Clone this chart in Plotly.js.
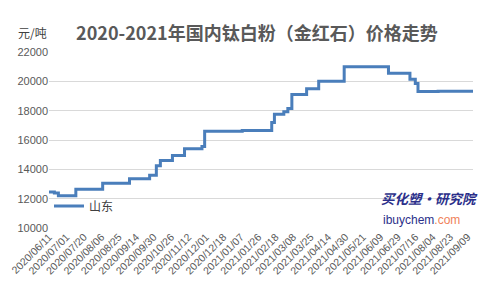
<!DOCTYPE html>
<html>
<head>
<meta charset="utf-8">
<script src="https://cdn.plot.ly/plotly-3.0.1.min.js"></script>
<style>html,body{margin:0;padding:0;background:#fff;}#chart{width:494px;height:296px;}</style>
</head>
<body>
<div id="chart"></div>
<script>
// Tick labels (every 13th trading day)
const tickLabels = ["2020/06/11","2020/07/01","2020/07/20","2020/08/06","2020/08/25","2020/09/14","2020/09/30","2020/10/26","2020/11/12","2020/12/01","2020/12/18","2021/01/07","2021/01/26","2021/02/18","2021/03/08","2021/03/25","2021/04/14","2021/04/30","2021/05/21","2021/06/09","2021/06/29","2021/07/16","2021/08/04","2021/08/23","2021/09/09"];
const tickStep = 13;
// Price change points: trading-day index and price (元/吨)
const dayIndex = [0, 4, 7, 20, 40, 60, 75, 80, 83, 92, 101, 114, 116, 144, 166, 168, 175, 178, 181, 192, 201, 220, 253, 269, 273, 275, 290, 316];
const shandong = [12450, 12380, 12200, 12650, 13050, 13350, 13600, 14250, 14600, 14950, 15400, 15550, 16600, 16650, 17200, 17750, 17930, 18150, 19100, 19500, 20000, 21000, 20550, 20150, 19850, 19300, 19330, 19330];
const seriesName = "山东";

const tickVals = tickLabels.map((_, i) => i * tickStep);

const trace = {
  x: dayIndex, y: shandong, type: 'scatter', mode: 'lines', name: seriesName,
  line: {color: '#4a7ebb', width: 3, shape: 'hv'}
};

const layout = {
  width: 494, height: 296,
  margin: {l: 49, r: 21, t: 52, b: 68},
  paper_bgcolor: '#fff', plot_bgcolor: '#fff',
  font: {family: 'Liberation Sans, Arial, sans-serif', color: '#595959', size: 11},
  title: {text: '<b>2020-2021年国内钛白粉（金红石）价格走势</b>', x: 0.52, xanchor: 'center', y: 0.885, yanchor: 'middle',
          font: {family: '"Noto Sans CJK SC", sans-serif', size: 18, color: '#595959'}},
  xaxis: {range: [0, 316], tickvals: tickVals, ticktext: tickLabels, tickangle: -45,
          showgrid: false, zeroline: false, showline: false, ticks: '',
          tickfont: {size: 10.5, color: '#595959'}},
  yaxis: {range: [10000, 22000], dtick: 2000, tick0: 10000, tickformat: 'd', showgrid: true, gridcolor: '#d9d9d9', gridwidth: 1,
          zeroline: false, showline: false, ticks: '', tickfont: {size: 11, color: '#595959'}},
  showlegend: true,
  legend: {x: 0.0, y: 0.125, xanchor: 'left', yanchor: 'middle', bgcolor: 'rgba(0,0,0,0)',
           font: {family: '"Noto Sans CJK SC", sans-serif', size: 12, color: '#404040'}},
  annotations: [
    {xref: 'paper', yref: 'paper', x: -0.04, y: 1.108, xanchor: 'center', yanchor: 'middle', showarrow: false,
     text: '元/吨', font: {family: '"Noto Sans CJK SC", sans-serif', size: 12, color: '#404040'}},
    {xref: 'paper', yref: 'paper', x: 1.016, y: 0.17, xanchor: 'right', yanchor: 'middle', showarrow: false,
     text: '<b><i>买化塑·研究院</i></b>', font: {family: '"Noto Sans CJK SC", sans-serif', size: 13.5, color: '#2b2f8a'}},
    {xref: 'paper', yref: 'paper', x: 0.974, y: 0.045, xanchor: 'right', yanchor: 'middle', showarrow: false,
     text: '<span style="color:#2b2f8a">ibuychem</span><span style="color:#f0825a">.com</span>',
     font: {family: 'Liberation Sans, Arial, sans-serif', size: 12}}
  ]
};

Plotly.newPlot('chart', [trace], layout, {displayModeBar: false, staticPlot: true});
</script>
</body>
</html>
